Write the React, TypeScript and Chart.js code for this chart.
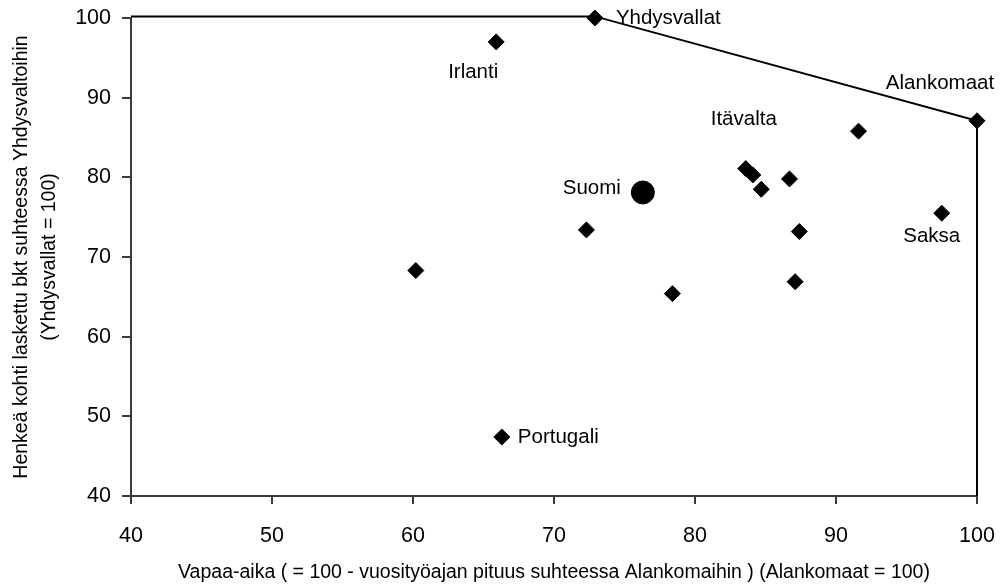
import React, { useEffect, useRef } from "react";
import { Chart, registerables } from "chart.js";

Chart.register(...registerables);

// ---- data ----
const countryNames = [
  "Yhdysvallat", "Irlanti", "Alankomaat", "", "Itävalta", "", "", "",
  "", "", "Saksa", "", "", "", "Portugali",
];
const leisureX = [72.9, 65.9, 100, 91.6, 83.6, 84.1, 84.7, 86.7, 72.3, 87.4, 97.5, 87.1, 78.4, 60.2, 66.3];
const gdpY = [100, 97.0, 87.1, 85.8, 81.1, 80.3, 78.5, 79.8, 73.4, 73.2, 75.5, 66.9, 65.4, 68.3, 47.4];

const finlandName = "Suomi";
const finlandX = [76.3];
const finlandY = [78.1];

const frontierX = [40, 72.9, 100, 100];
const frontierY = [100.2, 100.2, 87.1, 40];

const xTicks = [40, 50, 60, 70, 80, 90, 100];
const yTicks = [40, 50, 60, 70, 80, 90, 100];

const xTitle = "Vapaa-aika ( = 100 - vuosityöajan pituus suhteessa Alankomaihin ) (Alankomaat = 100)";
const yTitleLines = ["Henkeä kohti laskettu bkt suhteessa Yhdysvaltoihin", "(Yhdysvallat = 100)"];

// label placement (pixel offsets from the marker), styling only
const labelPlacement: Record<string, { dx: number; dy: number; align: CanvasTextAlign }> = {
  Yhdysvallat: { dx: 21, dy: 0, align: "left" },
  Irlanti: { dx: -23, dy: 30, align: "center" },
  Alankomaat: { dx: -37, dy: -37, align: "center" },
  "Itävalta": { dx: -2, dy: -49, align: "center" },
  Saksa: { dx: -10, dy: 23, align: "center" },
  Portugali: { dx: 16, dy: 0, align: "left" },
  Suomi: { dx: -22, dy: -4, align: "right" },
};

const FONT = "'Liberation Sans', Arial, sans-serif";
const AXIS_COLOR = "#3a3a3a";

const textPlugin = {
  id: "customText",
  afterDraw(chart: any) {
    const ctx = chart.ctx as CanvasRenderingContext2D;
    const xs = chart.scales.x;
    const ys = chart.scales.y;
    ctx.save();
    ctx.fillStyle = "#000";
    // point labels
    ctx.font = `20.5px ${FONT}`;
    ctx.textBaseline = "middle";
    const draw = (name: string, vx: number, vy: number) => {
      const p = labelPlacement[name];
      if (!name || !p) return;
      ctx.textAlign = p.align;
      ctx.fillText(name, xs.getPixelForValue(vx) + p.dx, ys.getPixelForValue(vy) + p.dy);
    };
    countryNames.forEach((n, i) => draw(n, leisureX[i], gdpY[i]));
    draw(finlandName, finlandX[0], finlandY[0]);

    // x title
    ctx.font = `19.5px ${FONT}`;
    ctx.textAlign = "center";
    ctx.textBaseline = "alphabetic";
    const ca = chart.chartArea;
    ctx.fillText(xTitle, (ca.left + ca.right) / 2, 578);

    // y title
    const cy = (ca.top + ca.bottom) / 2;
    const baselines = [26.5, 55];
    yTitleLines.forEach((line, i) => {
      ctx.save();
      ctx.translate(baselines[i], cy);
      ctx.rotate(-Math.PI / 2);
      ctx.fillText(line, 0, 0);
      ctx.restore();
    });
    ctx.restore();
  },
};

export default function App() {
  const ref = useRef<HTMLCanvasElement | null>(null);
  useEffect(() => {
    if (!ref.current) return;
    const chart = new Chart(ref.current, {
      type: "scatter",
      data: {
        datasets: [
          {
            type: "line",
            data: frontierX.map((x, i) => ({ x, y: frontierY[i] })),
            borderColor: "#000",
            borderWidth: 2,
            pointRadius: 0,
            fill: false,
            tension: 0,
            clip: false,
            order: 2,
          } as any,
          {
            data: leisureX.map((x, i) => ({ x, y: gdpY[i] })),
            pointStyle: "rectRot",
            pointRadius: 8,
            backgroundColor: "#000",
            borderColor: "#000",
            borderWidth: 1,
            clip: false,
            order: 1,
          } as any,
          {
            data: finlandX.map((x, i) => ({ x, y: finlandY[i] })),
            pointStyle: "circle",
            pointRadius: 11.5,
            backgroundColor: "#000",
            borderColor: "#000",
            borderWidth: 1,
            clip: false,
            order: 0,
          } as any,
        ],
      },
      options: {
        animation: false,
        responsive: true,
        maintainAspectRatio: false,
        layout: { autoPadding: false, padding: { top: 18, right: 24, left: 0, bottom: 0 } },
        plugins: { legend: { display: false }, tooltip: { enabled: false } },
        scales: {
          x: {
            type: "linear",
            min: 40,
            max: 100,
            afterBuildTicks: (s: any) => {
              s.ticks = xTicks.map((v) => ({ value: v }));
            },
            afterFit: (s: any) => {
              s.height = 89;
              s.paddingLeft = 0;
              s.paddingRight = 0;
            },
            ticks: {
              color: "#000",
              font: { family: FONT, size: 21.5 },
              padding: 19,
              maxRotation: 0,
            },
            grid: {
              drawOnChartArea: false,
              drawTicks: true,
              tickLength: 8,
              color: AXIS_COLOR,
              lineWidth: 2,
            },
            border: { display: true, color: AXIS_COLOR, width: 2 },
          },
          y: {
            type: "linear",
            min: 40,
            max: 100,
            afterBuildTicks: (s: any) => {
              s.ticks = yTicks.map((v) => ({ value: v }));
            },
            afterFit: (s: any) => {
              s.width = 131;
              s.paddingTop = 0;
              s.paddingBottom = 0;
            },
            ticks: {
              color: "#000",
              font: { family: FONT, size: 21.5 },
              padding: 11,
            },
            grid: {
              drawOnChartArea: false,
              drawTicks: true,
              tickLength: 9,
              color: AXIS_COLOR,
              lineWidth: 2,
            },
            border: { display: true, color: AXIS_COLOR, width: 2 },
          },
        },
      },
      plugins: [textPlugin],
    });
    return () => chart.destroy();
  }, []);
  return (
    <div style={{ position: "fixed", left: 0, top: 0, width: 1001, height: 585, background: "#fff" }}>
      <canvas ref={ref} />
    </div>
  );
}
